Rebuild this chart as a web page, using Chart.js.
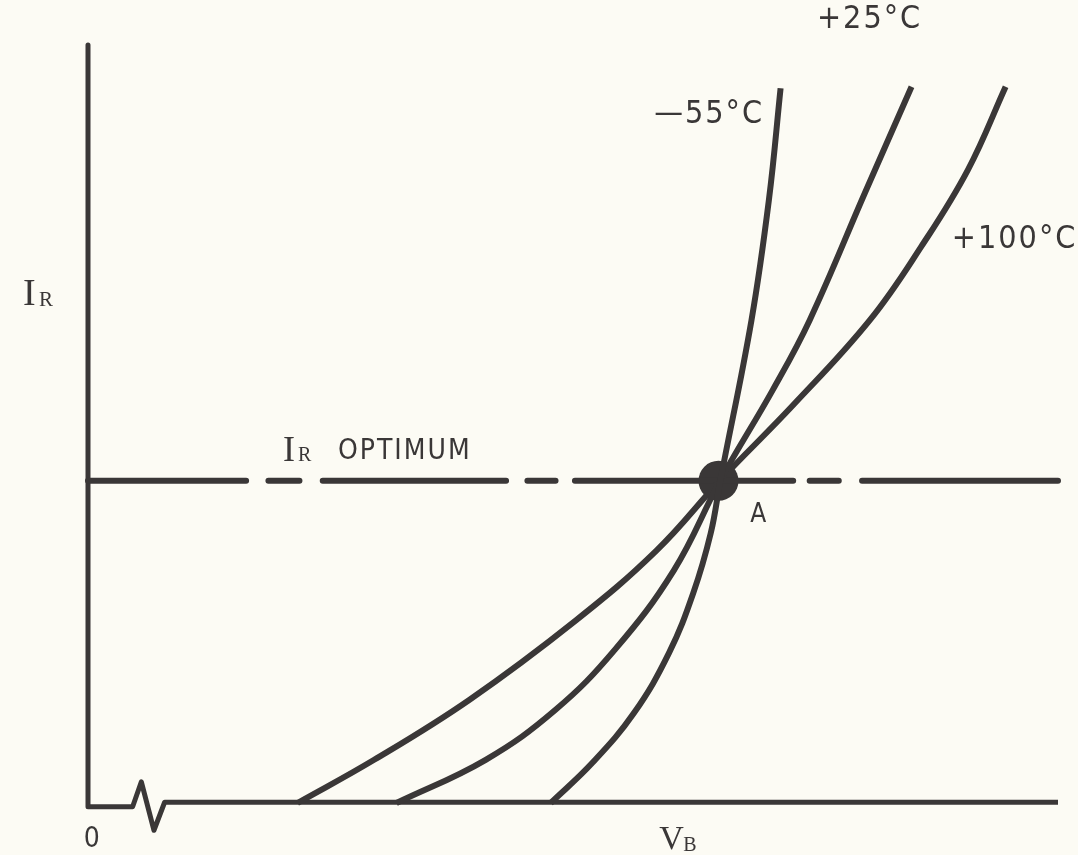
<!DOCTYPE html>
<html>
<head>
<meta charset="utf-8">
<script src="https://cdn.jsdelivr.net/npm/chart.js@4.4.1/dist/chart.umd.min.js"></script>
<style>
    html, body { margin: 0; padding: 0; background: #fcfbf4; }
    canvas { display: block; }
</style>
</head>
<body>
<canvas id="breakdownChart" width="1078" height="855"></canvas>
<script>
// V_B / I_R in arbitrary units (0..100 along each axis)
const vb100 = [21.6, 29.5, 39.3, 50.3, 58.6, 65.2, 72.7, 80.6, 85.9, 90.7, 94.6];
const ir100 = [0, 5.7, 13.6, 24.1, 33.3, 42.6, 52.5, 63.7, 73.4, 83.5, 94.5];
const vb25 = [31.8, 41.0, 48.2, 54.3, 60.4, 65.2, 70.6, 74.4, 80.1, 84.9];
const ir25 = [0, 5.7, 12.3, 20.2, 30.7, 42.6, 54.5, 63.7, 80.5, 94.5];
const vb55 = [47.7, 52.0, 56.3, 59.9, 62.4, 64.2, 65.2, 68.4, 70.2, 71.4];
const ir55 = [0, 5.3, 11.9, 19.8, 27.7, 35.6, 42.6, 63.7, 79.6, 94.3];

// operating point A and the I_R optimum level
const pointA = { x: 65.0, y: 42.5 };
const irOptimum = 42.5;
const optSegments = [[0, 16.3], [18.6, 21.8], [24.2, 43.1], [45.3, 48.2], [50.2, 72.7], [74.4, 77.4], [79.8, 100]];

// axes drawn by hand, with the break mark near the origin
const axisX = [0, 0, 4.6, 5.5, 6.8, 7.9, 100];
const axisY = [100, -0.5, -0.5, 2.8, -3.6, 0.1, 0.1];

const ink = '#3a3737';

function toPoints(xs, ys) {
    return xs.map((x, i) => ({ x: x, y: ys[i] }));
}

function optimumPoints() {
    const pts = [];
    optSegments.forEach((seg, i) => {
        if (i > 0) pts.push({ x: (optSegments[i - 1][1] + seg[0]) / 2, y: null });
        pts.push({ x: seg[0], y: irOptimum });
        pts.push({ x: seg[1], y: irOptimum });
    });
    return pts;
}

const curveStyle = {
    showLine: true,
    borderColor: ink,
    borderWidth: 6,
    pointRadius: 0,
    tension: 0.4,
    clip: false
};

// text labels placed in data units
const labelsPlugin = {
    id: 'labels',
    afterDraw(chart) {
        const ctx = chart.ctx;
        const xs = chart.scales.x, ys = chart.scales.y;
        const px = v => xs.getPixelForValue(v);
        const py = v => ys.getPixelForValue(v);
        const sans = '"Liberation Sans Narrow", "DejaVu Sans Condensed", sans-serif';
        const serif = '"Liberation Serif", "DejaVu Serif", serif';

        ctx.save();
        ctx.fillStyle = ink;
        ctx.textBaseline = 'middle';
        ctx.letterSpacing = '2px';

        function text(str, x, y, font, align) {
            ctx.font = font;
            ctx.textAlign = align || 'left';
            ctx.fillText(str, x, y);
        }

        text('—55°C', px(69.7), py(90.8), '32px ' + sans, 'right');
        text('+25°C', px(86.0), py(103.3), '32px ' + sans, 'right');
        text('+100°C', px(102.0), py(74.3), '32px ' + sans, 'right');
        text('A', px(69.2), py(38.0), '26px ' + sans, 'center');
        text('0', px(0.5), py(-4.9), '28px ' + sans, 'center');

        // I_R OPTIMUM
        let x0 = px(20.1), y0 = py(46.4);
        text('I', x0, y0, '36px ' + serif);
        text('R', x0 + 15, y0 + 4, '20px ' + serif);
        text('OPTIMUM', x0 + 55, y0, '28px ' + sans);

        // I_R axis label
        x0 = px(-6.7); y0 = py(67.0);
        text('I', x0, y0, '38px ' + serif);
        text('R', x0 + 16, y0 + 5, '21px ' + serif);

        // V_B axis label
        x0 = px(58.9); y0 = py(-4.9);
        text('V', x0, y0, '34px ' + serif);
        text('B', x0 + 24, y0 + 6, '20px ' + serif);

        ctx.restore();
    }
};

new Chart(document.getElementById('breakdownChart'), {
    type: 'scatter',
    data: {
        datasets: [
            Object.assign({ label: '-55°C', data: toPoints(vb55, ir55) }, curveStyle),
            Object.assign({ label: '+25°C', data: toPoints(vb25, ir25) }, curveStyle),
            Object.assign({ label: '+100°C', data: toPoints(vb100, ir100) }, curveStyle),
            {
                label: 'IR optimum',
                data: optimumPoints(),
                showLine: true,
                spanGaps: false,
                borderColor: ink,
                borderWidth: 6,
                borderCapStyle: 'round',
                pointRadius: 0,
                clip: false
            },
            {
                label: 'axes',
                data: toPoints(axisX, axisY),
                showLine: true,
                borderColor: ink,
                borderWidth: 5,
                borderJoinStyle: 'round',
                tension: 0,
                pointRadius: 0,
                clip: false
            },
            {
                label: 'A',
                data: [pointA],
                pointRadius: 20,
                pointBackgroundColor: ink,
                pointBorderWidth: 0,
                clip: false
            }
        ]
    },
    options: {
        responsive: false,
        animation: false,
        devicePixelRatio: 1,
        layout: { padding: { left: 88, right: 10, top: 45, bottom: 52 } },
        plugins: {
            legend: { display: false },
            tooltip: { enabled: false }
        },
        scales: {
            x: { type: 'linear', min: 0, max: 100, display: false },
            y: { type: 'linear', min: 0, max: 100, display: false }
        }
    },
    plugins: [labelsPlugin]
});
</script>
</body>
</html>
